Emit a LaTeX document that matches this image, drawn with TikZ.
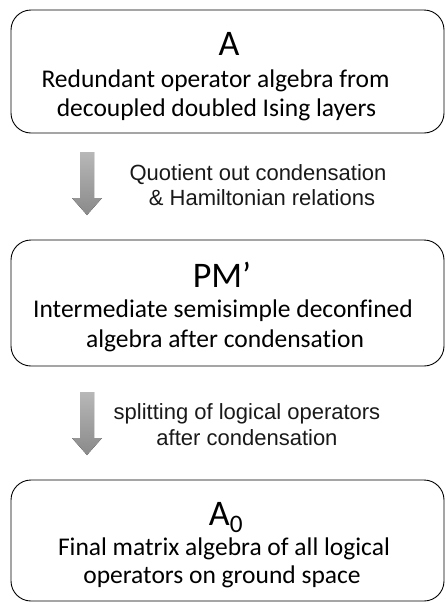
\documentclass[tikz,border=0pt]{standalone}
\usepackage{fontspec}
\setmainfont{Carlito}[Ligatures={NoCommon}]
\newfontfamily\lblfont{Liberation Sans}
\begin{document}
\begin{tikzpicture}[x=1pt,y=-1pt,
  algbox/.style={draw=black, line width=0.9pt, rounded corners=20pt, minimum width=433pt, inner sep=0pt},
  headtxt/.style={font=\fontsize{36}{40}\selectfont, inner sep=0pt, anchor=base},
  desctxt/.style={font=\fontsize{25.5}{30}\selectfont, inner sep=0pt, anchor=base},
  lbltxt/.style={font=\lblfont\fontsize{22}{26}\selectfont, inner sep=0pt, anchor=base, text=black!90},
  blockarrow/.style={top color=black!28, bottom color=black!46, draw=none}
]
\useasboundingbox (0,0) rectangle (445,603);
% boxes
\node[algbox, minimum height=123pt] (b1) at (227.5,71.5) {};
\node[algbox, minimum height=126pt] (b2) at (227.5,303) {};
\node[algbox, minimum height=121pt] (b3) at (227.5,540.5) {};
% box texts
\node[headtxt] (h1) at (229,55) {A};
\node[desctxt] (d1a) at (215.5,87) {Redundant operator algebra from};
\node[desctxt] (d1b) at (216.5,116) {decoupled doubled Ising layers};
\node[headtxt] (h2) at (222,287) {PM’};
\node[desctxt] (d2a) at (223,317) {Intermediate semisimple deconfined};
\node[desctxt] (d2b) at (225,347) {algebra after condensation};
\node[headtxt] (h3) at (226,525) {A\textsubscript{0}};
\node[desctxt] (d3a) at (224,555) {Final matrix algebra of all logical};
\node[desctxt] (d3b) at (222,583) {operators on ground space};
% block arrows
\coordinate (a1top) at (87,152);
\coordinate (a1tip) at (87,215);
\fill[blockarrow] (a1top) ++(-7,0) -- ++(14,0) -- ++(0,46) -- ++(8,0) -- (a1tip) -- ++(-15,-17) -- ++(8,0) -- cycle;
\coordinate (a2top) at (87,392);
\coordinate (a2tip) at (87,455);
\fill[blockarrow] (a2top) ++(-7,0) -- ++(14,0) -- ++(0,46) -- ++(8,0) -- (a2tip) -- ++(-15,-17) -- ++(8,0) -- cycle;
% labels
\node[lbltxt] (l1a) at (258,180) {Quotient out condensation};
\node[lbltxt] (l1b) at (262,205) {\& Hamiltonian relations};
\node[lbltxt] (l2a) at (247,419) {splitting of logical operators};
\node[lbltxt] (l2b) at (247,445) {after condensation};
\end{tikzpicture}
\end{document}
